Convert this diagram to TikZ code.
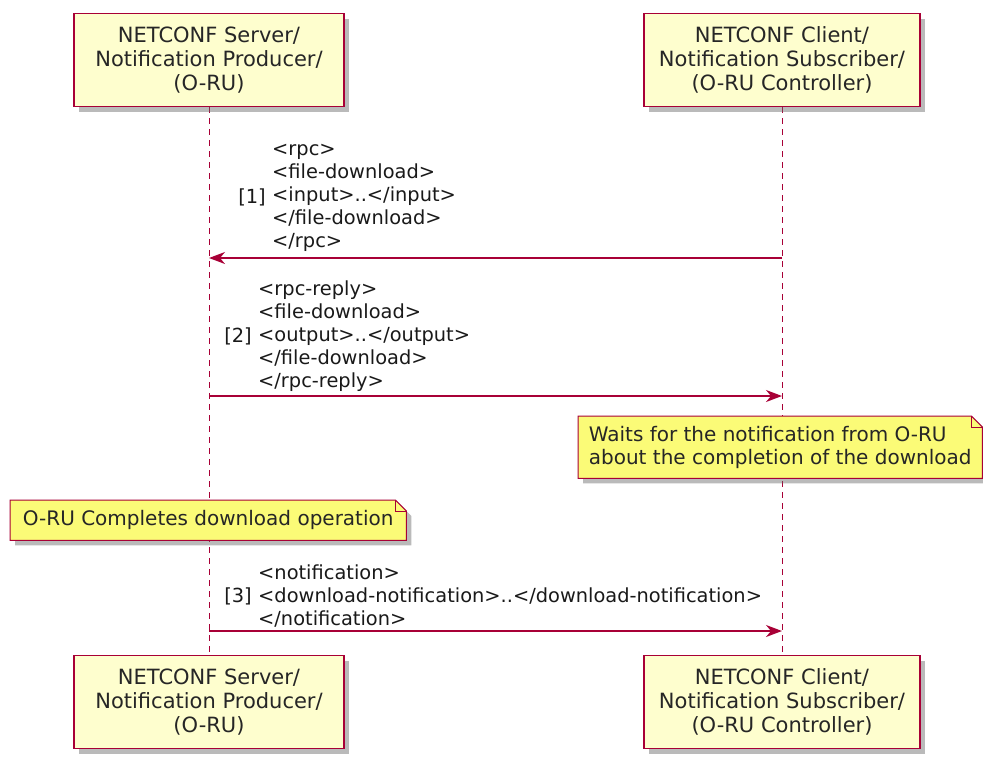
\documentclass[tikz,border=0pt]{standalone}
\usepackage{fontspec}
\setmainfont{DejaVu Sans}
\usetikzlibrary{positioning, arrows.meta, shadows, backgrounds}
\definecolor{umlred}{HTML}{A80036}
\definecolor{boxfill}{HTML}{FEFECE}
\definecolor{notefill}{HTML}{FBFB77}

\begin{document}
\begin{tikzpicture}[x=1pt, y=-1pt,
  actor/.style={draw=umlred, fill=boxfill, line width=1.5pt, minimum height=93pt, align=center,
    font=\fontsize{21}{24}\selectfont, text=black!85,
    drop shadow={shadow xshift=5pt, shadow yshift=-5pt, opacity=0.45, fill=black!60}},
  lifeline/.style={draw=umlred, line width=1pt, dash pattern=on 6pt off 5pt},
  msg/.style={draw=umlred, line width=1.5pt, -{Stealth[length=16pt, width=12pt, inset=5pt]}},
  msgtext/.style={align=left, inner sep=0pt, font=\fontsize{19.4}{23}\selectfont, text=black!90},
  notetext/.style={align=left, inner xsep=10pt, inner ysep=0pt, font=\fontsize{20}{23}\selectfont, text=black!85},
  notebody/.style={draw=umlred, fill=notefill, line width=1pt,
    drop shadow={shadow xshift=5pt, shadow yshift=-5pt, opacity=0.45, fill=black!60}}]
\useasboundingbox (0,0) rectangle (983,756);

% participants
\node[actor, minimum width=270pt] (srvtop) at (209,60) {NETCONF Server/\\Notification Producer/\\(O-RU)};
\node[actor, minimum width=276pt] (clitop) at (782,60) {NETCONF Client/\\Notification Subscriber/\\(O-RU Controller)};
\node[actor, minimum width=270pt] (srvbot) at (209,702) {NETCONF Server/\\Notification Producer/\\(O-RU)};
\node[actor, minimum width=276pt] (clibot) at (782,702) {NETCONF Client/\\Notification Subscriber/\\(O-RU Controller)};

\begin{scope}[on background layer]
\draw[lifeline] (srvtop) -- (srvbot);
\draw[lifeline] (clitop) -- (clibot);
\end{scope}

% points on the lifelines
\coordinate (s1) at (srvtop |- 0,258);
\coordinate (c1) at (clitop |- 0,258);
\coordinate (s2) at (srvtop |- 0,396);
\coordinate (c2) at (clitop |- 0,396);
\coordinate (s3) at (srvtop |- 0,631);
\coordinate (c3) at (clitop |- 0,631);

% [1]
\node[msgtext, anchor=north west] (msg1) at (272,144) {<rpc>\\<file-download>\\<input>..</input>\\</file-download>\\</rpc>};
\node[msgtext, left=6pt of msg1] (num1) {[1]};
\draw[msg] (c1) -- (s1);

% [2]
\node[msgtext, anchor=north west] (msg2) at (258,281) {<rpc-reply>\\<file-download>\\<output>..</output>\\</file-download>\\</rpc-reply>};
\node[msgtext, left=6pt of msg2] (num2) {[2]};
\draw[msg] (s2) -- (c2);

% notes
\node[notetext, anchor=north west, minimum height=62pt, minimum width=404pt] (wait) at (578,416)
  {Waits for the notification from O-RU\\about the completion of the download};
\node[notetext, anchor=north west, minimum height=40pt, minimum width=396pt] (done) at (10,500)
  {O-RU Completes download operation};
\begin{scope}[on background layer]
\foreach \n in {wait, done} {
  \path[notebody] (\n.north west) -- ([xshift=-11pt]\n.north east) -- ([yshift=-11pt]\n.north east)
    -- (\n.south east) -- (\n.south west) -- cycle;
  \draw[umlred, line width=1pt] ([xshift=-11pt]\n.north east) -- ([xshift=-11pt, yshift=-11pt]\n.north east)
    -- ([yshift=-11pt]\n.north east);
}
\end{scope}

% [3]
\node[msgtext, anchor=north west] (msg3) at (258,565) {<notification>\\<download-notification>..</download-notification>\\</notification>};
\node[msgtext, left=6pt of msg3] (num3) {[3]};
\draw[msg] (s3) -- (c3);
\end{tikzpicture}
\end{document}
